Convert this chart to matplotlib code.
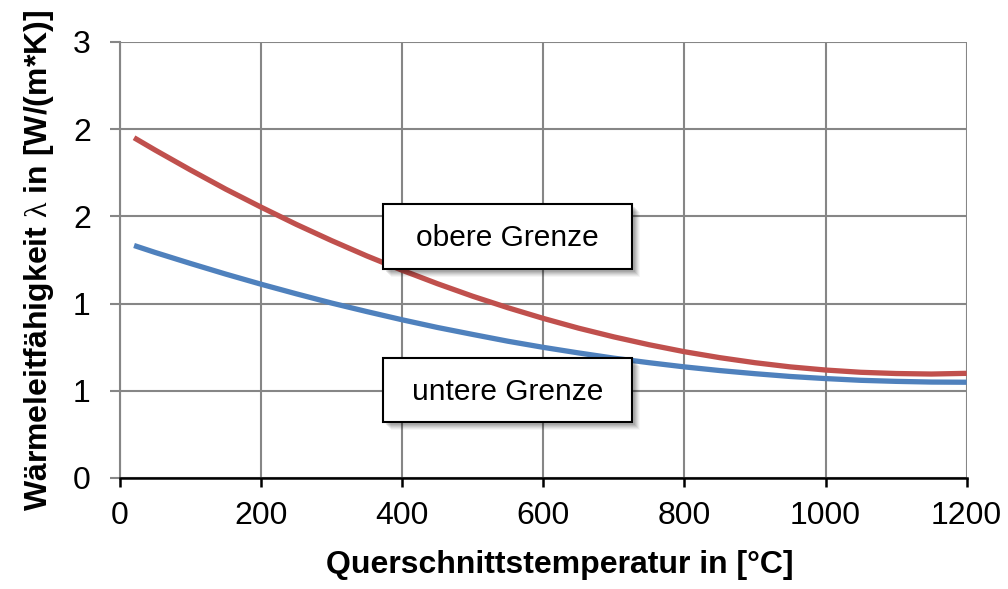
import numpy as np
import matplotlib
matplotlib.use('Agg')
import matplotlib.pyplot as plt
from matplotlib.patches import FancyBboxPatch

# temperature in degC and thermal conductivity in W/(m*K)
temperature = [20, 50, 100, 150, 200, 250, 300, 350, 400, 450, 500, 550, 600, 650,
	700, 750, 800, 850, 900, 950, 1000, 1050, 1100, 1150, 1200]
upper_limit = [1.951, 1.880, 1.766, 1.656, 1.553, 1.454, 1.361, 1.273, 1.191, 1.114,
	1.042, 0.976, 0.915, 0.859, 0.809, 0.764, 0.724, 0.690, 0.661, 0.637, 0.619,
	0.606, 0.599, 0.596, 0.600]
lower_limit = [1.333, 1.293, 1.230, 1.169, 1.111, 1.056, 1.003, 0.954, 0.907, 0.863,
	0.823, 0.784, 0.749, 0.717, 0.687, 0.661, 0.637, 0.616, 0.598, 0.582, 0.570,
	0.560, 0.554, 0.550, 0.549]

x_ticks = [0, 200, 400, 600, 800, 1000, 1200]
y_ticks = [0, 0.5, 1.0, 1.5, 2.0, 2.5]
y_tick_labels = ['0', '1', '1', '2', '2', '3']

plt.rcParams['font.family'] = ['Liberation Sans', 'DejaVu Sans']
plt.rcParams['mathtext.fontset'] = 'custom'
plt.rcParams['mathtext.rm'] = 'Liberation Serif'

RED = '#C0504D'
BLUE = '#4F81BD'
GRID = '#868686'
FS = 23


def main():
	fig = plt.figure(figsize=(10.08, 5.89), dpi=100)
	ax = fig.add_axes([0.119, 0.1885, 0.840, 0.7402])

	ax.plot(temperature, upper_limit, color=RED, lw=3.8, solid_capstyle='butt', zorder=3)
	ax.plot(temperature, lower_limit, color=BLUE, lw=3.8, solid_capstyle='butt', zorder=3)

	ax.set_xlim(0, 1200)
	ax.set_ylim(0, 2.5)
	ax.set_xticks(x_ticks)
	ax.set_yticks(y_ticks)
	ax.set_yticklabels(y_tick_labels)
	ax.grid(True, color=GRID, lw=1.5)
	ax.set_axisbelow(True)

	for side in ['top', 'right']:
		ax.spines[side].set_visible(False)
	ax.spines['left'].set_color(GRID)
	ax.spines['left'].set_linewidth(1.5)
	ax.spines['bottom'].set_color('black')
	ax.spines['bottom'].set_linewidth(1.8)
	ax.spines['bottom'].set_zorder(4)

	ax.tick_params(axis='y', length=7, width=1.5, color=GRID, labelsize=FS, pad=14)
	ax.tick_params(axis='x', length=6.5, width=1.8, color='black', labelsize=FS, pad=10)

	ax.set_xlabel('Querschnittstemperatur in [°C]', fontsize=FS, fontweight='bold', labelpad=14)
	ax.xaxis.label.set_x(0.519)
	ax.set_ylabel(r'Wärmeleitfähigkeit $\mathrm{\lambda}$ in [W/(m*K)]', fontsize=FS,
		fontweight='bold', labelpad=12)

	addLabel(ax, 'obere Grenze', 383, 632, 204, 269)
	addLabel(ax, 'untere Grenze', 383, 632, 358, 422)

	fig.savefig('out.png', dpi=100)


def addLabel(ax, text, x0, x1, y0, y1):
	# boxes placed in figure pixel coordinates
	fig = ax.figure
	H = 589.0
	W = 1008.0
	for k, alpha in [(8, 0.04), (7, 0.05), (6, 0.06), (5, 0.07), (4, 0.08), (3, 0.09)]:
		sh = FancyBboxPatch(((x0 + k) / W, (H - y1 - k) / H), (x1 - x0) / W, (y1 - y0) / H,
			boxstyle='square,pad=0', transform=fig.transFigure, fc='black', ec='none',
			alpha=alpha, zorder=5)
		fig.patches.append(sh)
	box = FancyBboxPatch((x0 / W, (H - y1) / H), (x1 - x0) / W, (y1 - y0) / H,
		boxstyle='square,pad=0', transform=fig.transFigure, fc='white', ec='black',
		lw=1.5, zorder=6)
	fig.patches.append(box)
	fig.text((x0 + x1) / 2 / W, (H - (y0 + y1) / 2 - 2) / H, text, ha='center', va='center',
		fontsize=21.5, zorder=7)


if __name__ == "__main__":
	main()
